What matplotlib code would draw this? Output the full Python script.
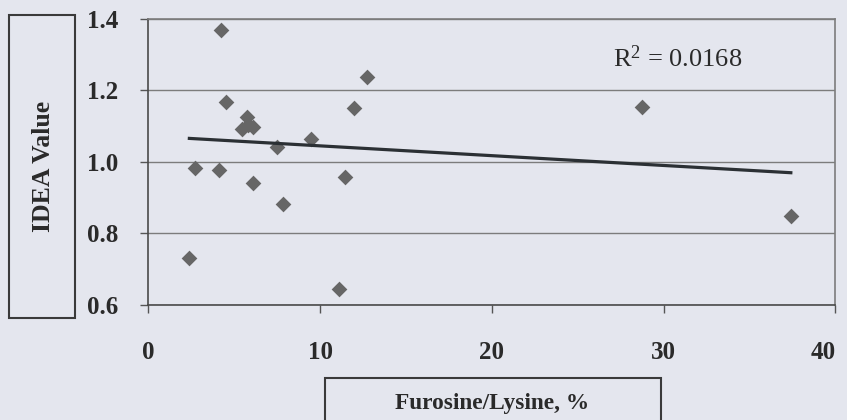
import numpy as np
import matplotlib
matplotlib.use("Agg")
import matplotlib.pyplot as plt
from matplotlib.patches import Rectangle

# values
furosine = [2.39, 2.74, 4.10, 4.25, 4.54, 5.44, 5.77, 6.12, 5.82, 6.12,
            7.48, 7.86, 9.46, 11.11, 11.44, 11.98, 12.72, 28.73, 37.41]
idea = [0.732, 0.982, 0.978, 1.370, 1.168, 1.091, 1.125, 1.099, 1.104, 0.942,
        1.043, 0.883, 1.064, 0.644, 0.959, 1.150, 1.239, 1.155, 0.849]

# linear trend line as drawn in the source (ends at the data range)
trend_x = [2.39, 37.41]
trend_y = [1.066, 0.970]

x_ticks = [0, 10, 20, 30, 40]
y_ticks = [0.6, 0.8, 1.0, 1.2, 1.4]
r2_text = "R$^{2}$ = 0.0168"

bg = "#e4e6ee"
serif = "Liberation Serif"
plt.rcParams["mathtext.fontset"] = "custom"
plt.rcParams["mathtext.rm"] = serif
plt.rcParams["mathtext.it"] = serif

fig = plt.figure(figsize=(8.47, 4.2), dpi=100, facecolor=bg)
ax = fig.add_axes([0.1751, 0.2738, 0.8111, 0.681], facecolor=bg)

ax.scatter(furosine, idea, marker="D", s=64, color="#666666", zorder=3, linewidths=0)
ax.plot(trend_x, trend_y, color="#2b3034", lw=2.3, zorder=4)

ax.set_xlim(0, 40)
ax.set_ylim(0.6, 1.4)
ax.set_xticks(x_ticks)
ax.set_yticks(y_ticks)
ax.set_xticklabels([str(v) for v in x_ticks])
ax.set_yticklabels([f"{v:.1f}" for v in y_ticks])
for lab in ax.get_xticklabels() + ax.get_yticklabels():
    lab.set_fontfamily(serif)
    lab.set_fontweight("bold")
    lab.set_fontsize(18)
    lab.set_color("#2a2a2a")
ax.get_xticklabels()[-1].set_horizontalalignment("right")
ax.get_xticklabels()[-1].set_x(40.6)

ax.yaxis.grid(True, color="#7c7c7c", lw=1.0)
ax.set_axisbelow(True)
ax.tick_params(axis="y", direction="out", length=5.8, width=1, pad=15.5, color="#555555")
ax.tick_params(axis="x", direction="out", length=5.8, width=1, pad=20, color="#555555")

ax.spines["left"].set_color("#4a4a4a")
ax.spines["bottom"].set_color("#4a4a4a")
ax.spines["top"].set_color("#7c7c7c")
ax.spines["right"].set_color("#7c7c7c")
for s in ax.spines.values():
    s.set_linewidth(1.2)

ax.text(27.07, 1.266, r2_text, fontfamily=serif, fontsize=19, color="#2a2a2a",
        ha="left", va="baseline")

# boxed axis titles
W, H = 847, 420
fig.patches.append(Rectangle((9 / W, 1 - 318 / H), 66 / W, 303 / H, transform=fig.transFigure,
                             fill=False, edgecolor="#3a3a3a", lw=1.5))
fig.patches.append(Rectangle((325 / W, -0.1), 336 / W, 0.1 + 1 - 378 / H, transform=fig.transFigure,
                             fill=False, edgecolor="#3a3a3a", lw=1.5))
fig.text(44 / W, 1 - 166.5 / H, "IDEA Value", rotation=90, ha="center", va="center",
         fontfamily=serif, fontweight="bold", fontsize=18.5, color="#2a2a2a")
fig.text(492 / W, 1 - 403 / H, "Furosine/Lysine, %", ha="center", va="center",
         fontfamily=serif, fontweight="bold", fontsize=16.8, color="#2a2a2a")

fig.savefig("out.png", dpi=100, facecolor=bg)
